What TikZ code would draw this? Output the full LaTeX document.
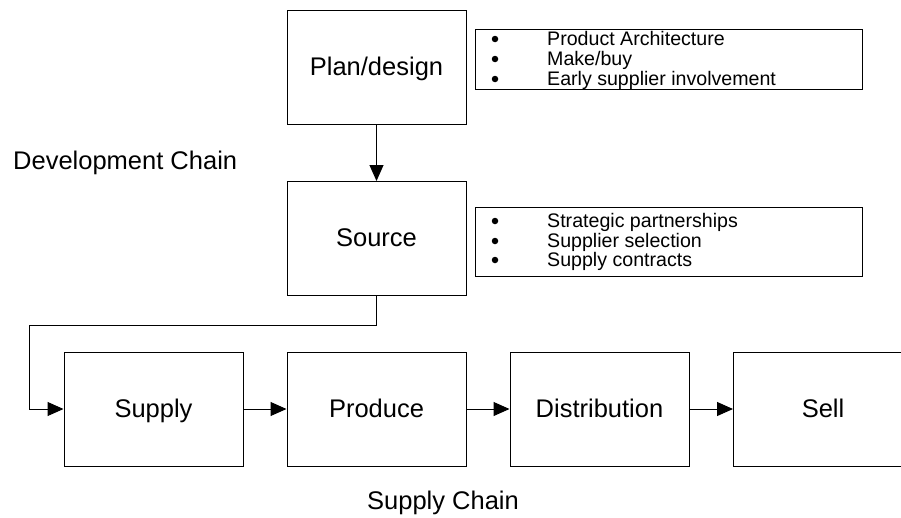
\documentclass[tikz,border=0pt]{standalone}
\usepackage{fontspec}
\setmainfont{Liberation Sans}
\usetikzlibrary{arrows.meta}
\begin{document}
\begin{tikzpicture}[x=1pt,y=-1pt,
  stage/.style={draw=black,line width=1pt,minimum width=179pt,minimum height=114pt,
    inner sep=0pt,text height=18.5pt,text depth=2.5pt,font=\fontsize{25.5}{30}\selectfont},
  notebox/.style={draw=black,line width=1pt,inner sep=0pt,minimum width=387pt},
  flow/.style={line width=1pt,-{Triangle[length=16pt,width=14pt]}},
  item/.style={anchor=base west,inner sep=0pt,font=\fontsize{19.6}{23}\selectfont},
  dot/.style={circle,fill=black,inner sep=0pt,minimum size=6.5pt},
  chain/.style={anchor=base west,inner sep=0pt,font=\fontsize{25.5}{30}\selectfont}]
\useasboundingbox (0,0) rectangle (901,517);
\clip (0,0) rectangle (901,517);

% development chain
\node[stage] (plan)   at (376.5,67.5)  {Plan/design};
\node[stage] (source) at (376.5,238.5) {Source};

% notes beside the development stages
\node[notebox,minimum height=60pt] (notesA) at (668.5,59) {};
\node[dot] (dA1) at (495,39) {};
\node[dot] (dA2) at (495,59) {};
\node[dot] (dA3) at (495,79) {};
\node[item] (tA1) at (547,45) {Product Architecture};
\node[item] (tA2) at (547,65) {Make/buy};
\node[item] (tA3) at (547,85) {Early supplier involvement};

\node[notebox,minimum height=69pt] (notesB) at (668.5,241.5) {};
\node[dot] (dB1) at (495,221) {};
\node[dot] (dB2) at (495,241) {};
\node[dot] (dB3) at (495,260) {};
\node[item] (tB1) at (547,227) {Strategic partnerships};
\node[item] (tB2) at (547,247) {Supplier selection};
\node[item] (tB3) at (547,266) {Supply contracts};

% supply chain
\node[stage] (supply)  at (153.5,409) {Supply};
\node[stage] (produce) at (376.5,409) {Produce};
\node[stage] (distrib) at (599.5,409) {Distribution};
\node[stage] (sell)    at (823,409)   {Sell};

% captions
\node[chain] (devlabel) at (13,169)  {Development Chain};
\node[chain] (sclabel)  at (367,509) {Supply Chain};

% connectors
\coordinate (bend) at (29,325);
\draw[flow] (plan) -- (source);
\draw[flow] (source.south) |- (bend) |- (supply.west);
\draw[flow] (supply) -- (produce);
\draw[flow] (produce) -- (distrib);
\draw[flow] (distrib) -- (sell);
\end{tikzpicture}
\end{document}
